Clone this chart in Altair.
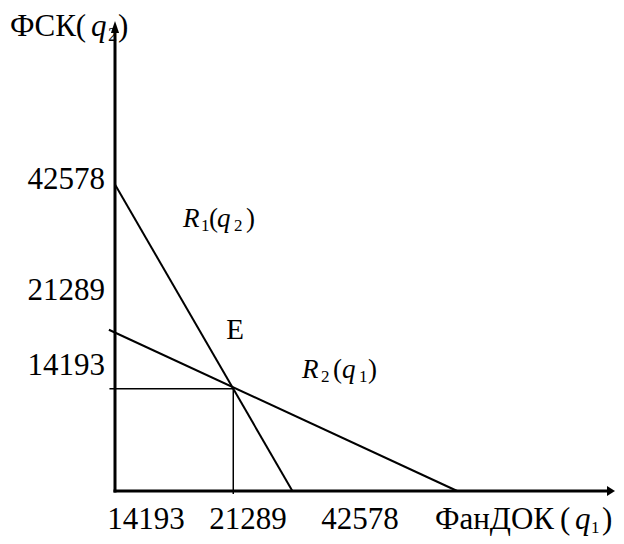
import altair as alt
import pandas as pd

# ---- values (economic units) ----
Q1_E = 21289          # equilibrium q1
Q2_E = 14193          # equilibrium q2
R1_Q1 = [0, 31934]    # reaction curve R1(q2): q1 values at its two ends
R1_Q2 = [42578, 0]
R2_Q1 = [-1100, 61600]  # reaction curve R2(q1)
R2_Q2 = [22400, 0]

Y_TICK_LABELS = ["42578", "21289", "14193"]
X_TICK_LABELS = ["14193", "21289", "42578"]

# ---- layout of the schematic ----
X_MAX = 90000
Y_MAX = 67100
W, H = 500, 483
XPP = X_MAX / W     # data units per pixel
YPP = Y_MAX / H

xs = alt.Scale(domain=[0, X_MAX], nice=False, zero=False)
ys = alt.Scale(domain=[0, Y_MAX], nice=False, zero=False)
X = lambda f="x": alt.X(f"{f}:Q", scale=xs, axis=None)
Y = lambda f="y": alt.Y(f"{f}:Q", scale=ys, axis=None)

SERIF = "Liberation Serif"

# reaction curves
curves = pd.DataFrame({
    "x": R1_Q1 + R2_Q1,
    "y": R1_Q2 + R2_Q2,
    "s": ["R1", "R1", "R2", "R2"],
})
lines = alt.Chart(curves).mark_line(color="black", strokeWidth=2).encode(
    x=X(), y=Y(), detail="s:N")

# guide lines to equilibrium
hguide = alt.Chart(pd.DataFrame({"x": [-1000], "x2": [Q1_E], "y": [Q2_E]})).mark_rule(
    color="black", strokeWidth=1.5).encode(x=X(), x2="x2:Q", y=Y())
vguide = alt.Chart(pd.DataFrame({"x": [Q1_E], "y": [-3 * YPP], "y2": [Q2_E]})).mark_rule(
    color="black", strokeWidth=1.5).encode(x=X(), y=Y(), y2="y2:Q")

# axes with arrows
X_TIP = X_MAX
Y_TIP = 470 * YPP
xaxis = alt.Chart(pd.DataFrame({"x": [0], "x2": [X_TIP - 7 * XPP], "y": [0]})).mark_rule(
    color="black", strokeWidth=3, strokeCap="square").encode(x=X(), x2="x2:Q", y=Y())
yaxis = alt.Chart(pd.DataFrame({"x": [0], "y": [0], "y2": [Y_TIP - 11 * YPP]})).mark_rule(
    color="black", strokeWidth=3, strokeCap="square").encode(x=X(), y=Y(), y2="y2:Q")
xarrow = alt.Chart(pd.DataFrame({"x": [X_TIP], "y": [0]})).mark_point(
    shape="M0,0L-1,-0.62L-1,0.62Z", size=256, filled=True, color="black", opacity=1,
    strokeWidth=0).encode(x=X(), y=Y())
yarrow = alt.Chart(pd.DataFrame({"x": [0], "y": [Y_TIP]})).mark_point(
    shape="M0,0L-0.34,1L0.34,1Z", size=576, filled=True, color="black", opacity=1,
    strokeWidth=0).encode(x=X(), y=Y())

# tick labels (placed as in the schematic)
ytl = pd.DataFrame({"t": Y_TICK_LABELS, "x": [-10 * XPP] * 3,
                    "y": [41950, 26530, 16110]})
xtl = pd.DataFrame({"t": X_TICK_LABELS, "x": [5580, 23940, 44100],
                    "y": [-5280] * 3})
ylabels = alt.Chart(ytl).mark_text(font=SERIF, fontSize=31, align="right",
                                   baseline="alphabetic", color="black").encode(
    x=X(), y=Y(), text="t:N")
xlabels = alt.Chart(xtl).mark_text(font=SERIF, fontSize=31, align="center",
                                   baseline="alphabetic", color="black").encode(
    x=X(), y=Y(), text="t:N")

# composed labels: (anchor x, anchor y, [(text, dx px, dy px, size, italic)])
BIG, SUB = 27, 17
composed = [
    (-18900, 63210, [("ФСК(", 0, 0, 31, False), ("q", 81, 0, 31, True),
                     ("2", 98, 5, 18, False), (")", 108, 0, 31, False)]),
    (57600, -5280, [("ФанДОК", 0, 0, 31, False), ("(", 125, 0, 31, False),
                    ("q", 140, 0, 31, True), ("1", 156, 4, 17, False),
                    (")", 167, 0, 31, False)]),
    (12240, 36680, [("R", 0, 0, BIG, True), ("1", 18, 4, SUB, False),
                    ("(", 26, 0, BIG, False), ("q", 34, 0, BIG, True),
                    ("2", 51, 4, SUB, False), (")", 63, 0, BIG, False)]),
    (33660, 15700, [("R", 0, 0, BIG, True), ("2", 19, 4, SUB, False),
                    ("(", 31, 0, BIG, False), ("q", 40, 0, BIG, True),
                    ("1", 57, 4, SUB, False), (")", 66, 0, BIG, False)]),
]
rows = []
for ax, ay, segs in composed:
    for t, dx, dy, sz, it in segs:
        rows.append({"t": t, "x": ax + dx * XPP, "y": ay - dy * YPP, "sz": sz,
                     "it": it})
seg = pd.DataFrame(rows)
seg_up = alt.Chart(seg[~seg.it]).mark_text(font=SERIF, align="left",
                                           baseline="alphabetic", color="black").encode(
    x=X(), y=Y(), text="t:N", size=alt.Size("sz:Q", scale=None, legend=None))
seg_it = alt.Chart(seg[seg.it]).mark_text(font=SERIF, fontStyle="italic", align="left",
                                          baseline="alphabetic", color="black").encode(
    x=X(), y=Y(), text="t:N", size=alt.Size("sz:Q", scale=None, legend=None))

elabel = alt.Chart(pd.DataFrame({"t": ["E"], "x": [21600], "y": [21120]})).mark_text(
    font=SERIF, fontSize=29, align="center", baseline="alphabetic", color="black").encode(
    x=X(), y=Y(), text="t:N")

chart = alt.layer(
    ylabels, xlabels, seg_up, seg_it, elabel,
    lines, hguide, vguide, xaxis, yaxis, xarrow, yarrow,
).properties(
    width=W, height=H, autosize="none",
    padding={"left": 107, "top": 0, "right": 1, "bottom": 45},
    background="white",
).configure_view(stroke=None)

chart.save("out.html", embed_options={"renderer": "svg", "actions": False})
